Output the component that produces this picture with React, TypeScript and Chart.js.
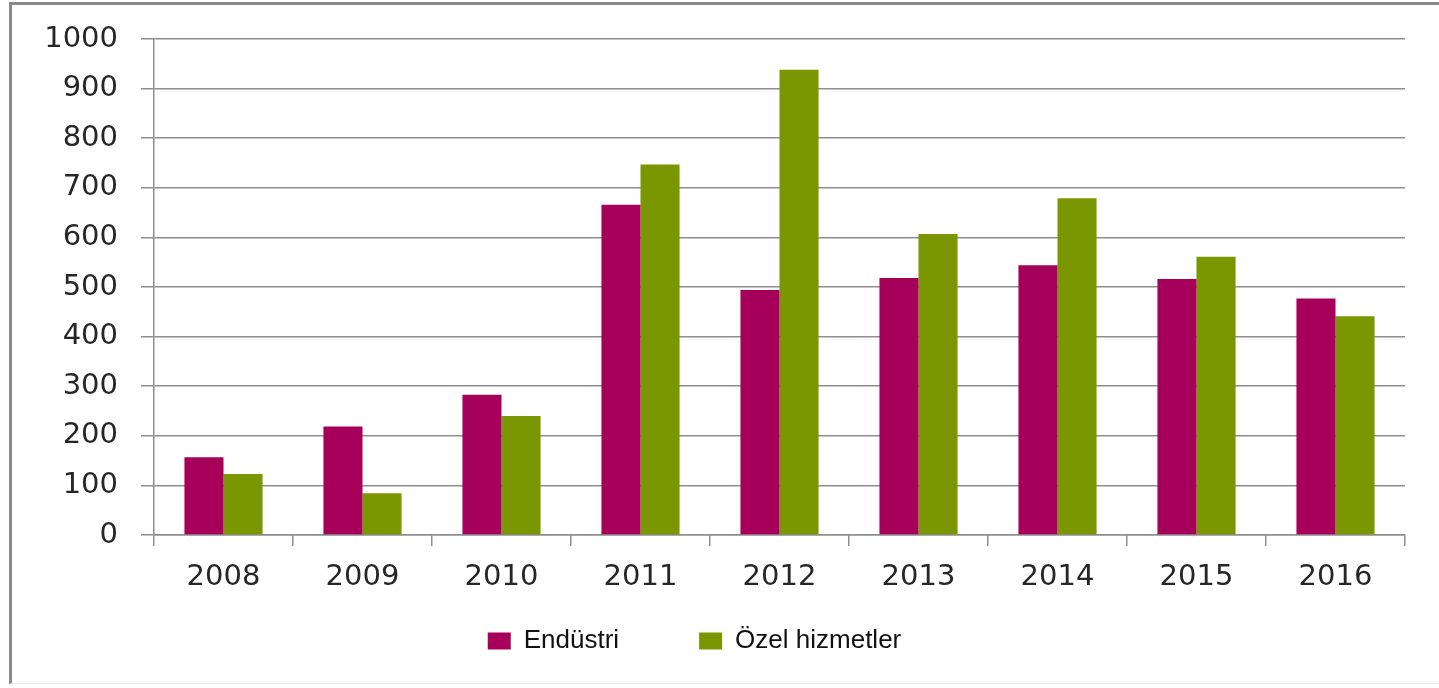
import React, { useEffect, useRef } from "react";
import { Chart, registerables } from "chart.js";

Chart.register(...registerables);

const years = ["2008", "2009", "2010", "2011", "2012", "2013", "2014", "2015", "2016"];
const endustri = [157, 219, 283, 666, 494, 518, 544, 516, 477];
const ozelHizmetler = [123, 84, 240, 747, 938, 607, 679, 561, 441];
const yTicksMax = 1000;
const yTicksStep = 100;

const MAGENTA = "#A6005B";
const GREEN = "#7A9600";
const GRID = "#8e8e8e";

// the x axis is fitted short so the wide-spaced legend can sit close to it;
// its label clip area is widened again after layout
const widenXLabelArea = {
  id: "widenXLabelArea",
  afterLayout(chart: any) {
    const x = chart.scales.x;
    if (x) x.bottom = x.top + 80;
  },
};

export default function App() {
  const ref = useRef<HTMLCanvasElement | null>(null);

  useEffect(() => {
    if (!ref.current) return;
    const chart = new Chart(ref.current, {
      type: "bar",
      data: {
        labels: years,
        datasets: [
          {
            label: "Endüstri",
            data: endustri,
            backgroundColor: MAGENTA,
            borderWidth: 0,
            categoryPercentage: 0.562,
            barPercentage: 1.0,
          },
          {
            label: "Özel hizmetler",
            data: ozelHizmetler,
            backgroundColor: GREEN,
            borderWidth: 0,
            categoryPercentage: 0.562,
            barPercentage: 1.0,
          },
        ],
      },
      plugins: [widenXLabelArea],
      options: {
        responsive: false,
        animation: false,
        layout: { padding: { top: 34, left: -28, right: 34, bottom: 19 } },
        plugins: {
          tooltip: { enabled: false },
          legend: {
            position: "bottom",
            labels: {
              boxWidth: 23,
              boxHeight: 17,
              padding: 80,
              color: "#111111",
              font: { family: "'Liberation Sans', Arial, sans-serif", size: 26 },
            },
          },
        },
        scales: {
          x: {
            grid: {
              display: true,
              drawOnChartArea: false,
              drawTicks: true,
              tickLength: 11,
              color: GRID,
              lineWidth: 1.5,
            },
            border: { display: true, color: GRID, width: 1.5 },
            ticks: {
              color: "#262626",
              padding: 14,
              font: { family: "'DejaVu Sans', Verdana, sans-serif", size: 29 },
            },
            afterFit: (s: any) => {
              s.height = 13;
            },
          },
          y: {
            min: 0,
            max: yTicksMax,
            ticks: {
              stepSize: yTicksStep,
              color: "#262626",
              padding: 23,
              font: { family: "'DejaVu Sans', Verdana, sans-serif", size: 29 },
              callback: (v: any) => String(v),
            },
            grid: {
              color: GRID,
              lineWidth: 1.5,
              drawTicks: true,
              tickLength: 13,
            },
            border: { display: true, color: GRID, width: 1.5 },
            afterFit: (s: any) => {
              s.width = 170;
              s.paddingTop = 0;
              s.paddingBottom = 0;
            },
          },
        },
      },
    });
    return () => chart.destroy();
  }, []);

  return (
    <div style={{ position: "absolute", left: 0, top: 0, width: 1439, height: 688, background: "#ffffff", overflow: "hidden" }}>
      <div
        style={{
          position: "absolute",
          left: 9,
          top: 2,
          width: 1450,
          height: 678,
          borderLeft: "3px solid #8a8a8a",
          borderTop: "3px solid #8a8a8a",
          borderBottom: "1px solid #ececec",
        }}
      />
      <canvas
        ref={ref}
        width={1427}
        height={678}
        style={{ position: "absolute", left: 12, top: 5, width: 1427, height: 678 }}
      />
    </div>
  );
}
